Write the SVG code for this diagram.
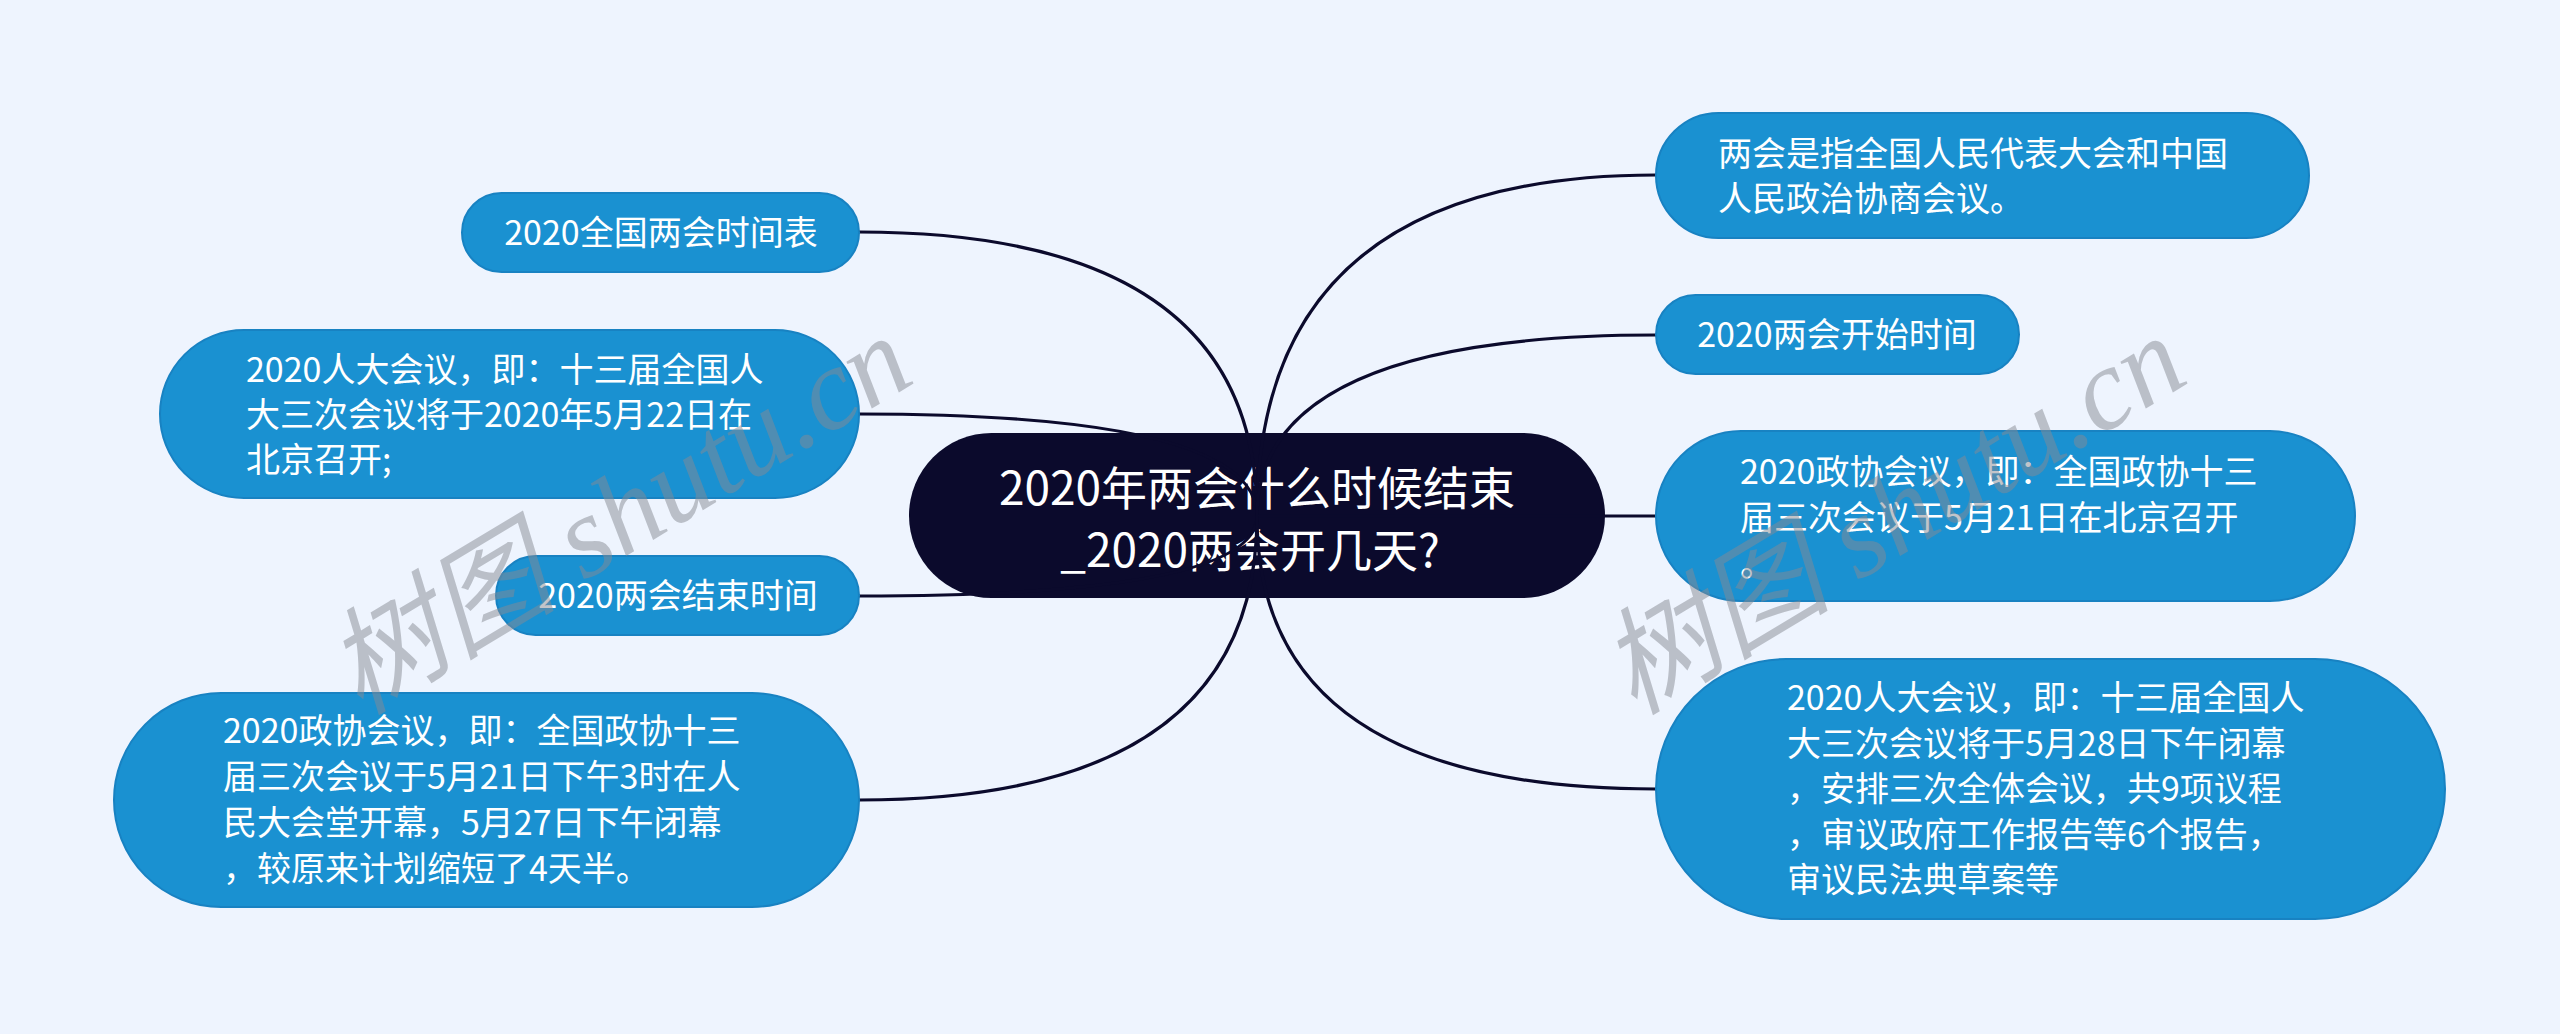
<svg xmlns="http://www.w3.org/2000/svg" width="2560" height="1034" viewBox="0 0 2560 1034">
<style>
.bg{fill:#eef4fe}
.root{fill:#0b0a2c}
.node{fill:#1a91d1;stroke:#1882c2;stroke-width:2}
.t{font-family:"Noto Sans CJK SC","Liberation Sans",sans-serif;font-size:34px;fill:#ffffff}
.tc{text-anchor:middle}
.rt{font-family:"Noto Sans CJK SC","Liberation Sans",sans-serif;font-size:46px;fill:#ffffff;text-anchor:middle}
.link{fill:none;stroke:#0b0a2c;stroke-width:3.2}
.wm{font-family:"Liberation Serif","Noto Sans CJK SC",serif;font-style:italic;font-size:116px;fill:#878b94;opacity:0.5}
</style>
<rect class="bg" x="0" y="0" width="2560" height="1034"/>
<g id="root">
<rect class="root" x="909" y="433" width="696" height="165" rx="82.5"/>
<text class="rt" x="1257" y="505">2020年两会什么时候结束</text>
<text class="rt" x="1250" y="567">_2020两会开几天?</text>
</g>
<g id="connectors">
<path class="link" d="M1257,516 Q1257,232 859,232"/>
<path class="link" d="M1257,516 Q1257,414 859,414"/>
<path class="link" d="M1257,516 Q1257,596 859,596"/>
<path class="link" d="M1257,516 Q1257,800 859,800"/>
<path class="link" d="M1257,516 Q1257,175 1656,175"/>
<path class="link" d="M1257,516 Q1257,335 1656,335"/>
<path class="link" d="M1257,516 L1656,516"/>
<path class="link" d="M1257,516 Q1257,789 1656,789"/>
</g>
<g id="n-l1">
<rect class="node" x="462" y="193" width="397" height="79" rx="39.5"/>
<text class="t tc" x="661" y="245">2020全国两会时间表</text>
</g>
<g id="n-l2">
<rect class="node" x="160" y="330" width="699" height="168" rx="84"/>
<text class="t" x="246" y="382">2020人大会议，即：十三届全国人</text>
<text class="t" x="246" y="427">大三次会议将于2020年5月22日在</text>
<text class="t" x="246" y="472">北京召开;</text>
</g>
<g id="n-l3">
<rect class="node" x="496" y="556" width="363" height="79" rx="39.5"/>
<text class="t tc" x="678" y="608">2020两会结束时间</text>
</g>
<g id="n-l4">
<rect class="node" x="114" y="693" width="745" height="214" rx="107"/>
<text class="t" x="223" y="743">2020政协会议，即：全国政协十三</text>
<text class="t" x="223" y="789">届三次会议于5月21日下午3时在人</text>
<text class="t" x="223" y="835">民大会堂开幕，5月27日下午闭幕</text>
<text class="t" x="223" y="881">，较原来计划缩短了4天半。</text>
</g>
<g id="n-r1">
<rect class="node" x="1656" y="113" width="653" height="125" rx="62.5"/>
<text class="t" x="1718" y="166">两会是指全国人民代表大会和中国</text>
<text class="t" x="1718" y="211">人民政治协商会议。</text>
</g>
<g id="n-r2">
<rect class="node" x="1656" y="295" width="363" height="79" rx="39.5"/>
<text class="t tc" x="1837" y="347">2020两会开始时间</text>
</g>
<g id="n-r3">
<rect class="node" x="1656" y="431" width="699" height="170" rx="85"/>
<text class="t" x="1740" y="484">2020政协会议，即：全国政协十三</text>
<text class="t" x="1740" y="530">届三次会议于5月21日在北京召开</text>
<text class="t" x="1740" y="576">。</text>
</g>
<g id="n-r4">
<rect class="node" x="1656" y="659" width="789" height="260" rx="130"/>
<text class="t" x="1787" y="710">2020人大会议，即：十三届全国人</text>
<text class="t" x="1787" y="756">大三次会议将于5月28日下午闭幕</text>
<text class="t" x="1787" y="801">，安排三次全体会议，共9项议程</text>
<text class="t" x="1787" y="847">，审议政府工作报告等6个报告，</text>
<text class="t" x="1787" y="892">审议民法典草案等</text>
</g>
<g id="watermark">
<text class="wm" transform="translate(360,716) rotate(-31)">树图 shutu.cn</text>
<text class="wm" transform="translate(1634,716) rotate(-31)">树图 shutu.cn</text>
</g>
</svg>
